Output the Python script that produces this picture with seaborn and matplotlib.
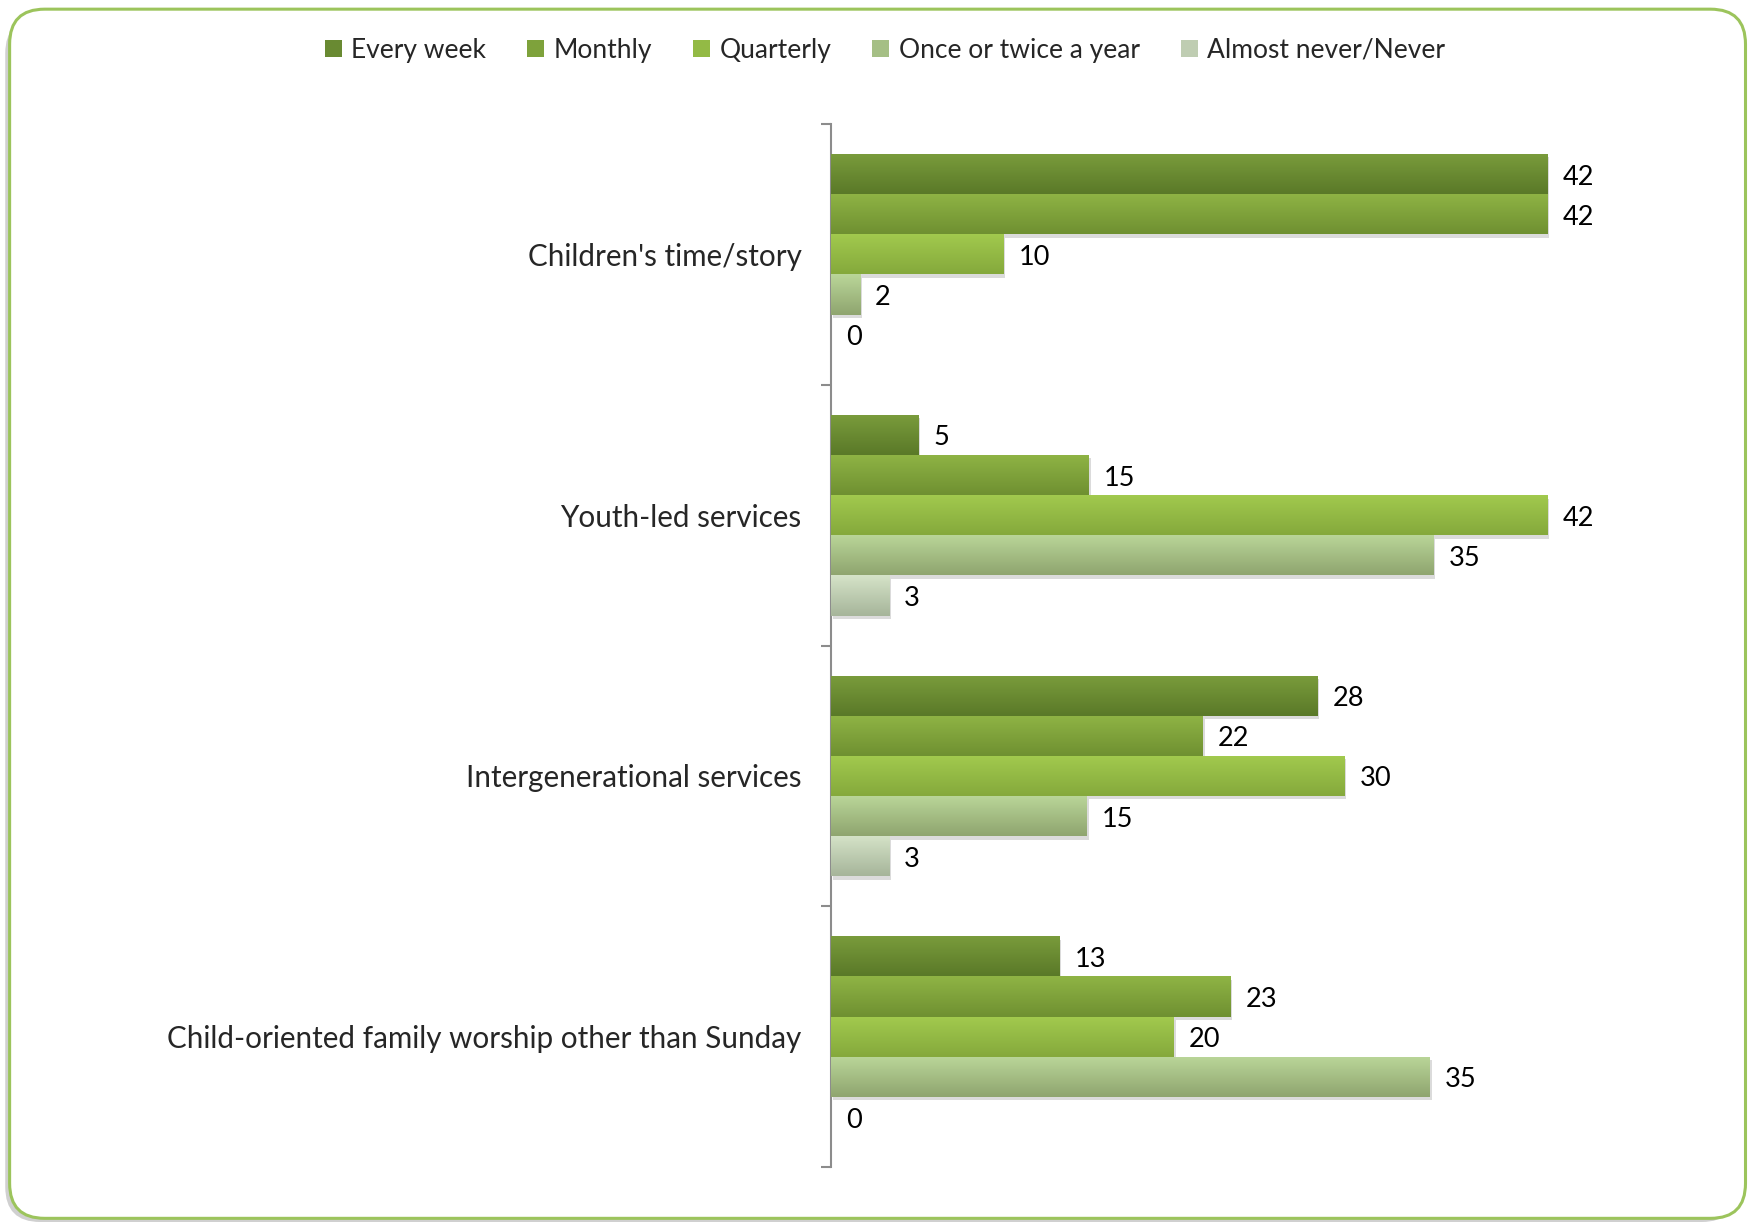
import numpy as np
import pandas as pd
import matplotlib
matplotlib.use("Agg")
import matplotlib.pyplot as plt
import matplotlib.patheffects as pe
from matplotlib.colors import LinearSegmentedColormap
from matplotlib.patches import FancyBboxPatch, Patch
import seaborn as sns

services = ["Children's time/story", "Youth-led services", "Intergenerational services",
            "Child-oriented family worship other than Sunday"]
freqs = ["Every week", "Monthly", "Quarterly", "Once or twice a year", "Almost never/Never"]
every_week = [42.0, 5.1, 28.5, 13.4]
monthly = [42.0, 15.1, 21.8, 23.4]
quarterly = [10.1, 42.0, 30.1, 20.1]
once_twice = [1.7, 35.3, 15.0, 35.1]
almost_never = [0, 3.4, 3.4, 0]

# gradient colours per series, top -> bottom of each bar
grad = {
    "Every week": ("#7a9c3c", "#5a7928"),
    "Monthly": ("#8fb445", "#6f9031"),
    "Quarterly": ("#a2ca4e", "#85a93c"),
    "Once or twice a year": ("#bad699", "#8fa56f"),
    "Almost never/Never": ("#d5e3c8", "#a6b59a"),
}
mid = {"Every week": "#698a32", "Monthly": "#7ea23b", "Quarterly": "#93ba45",
       "Once or twice a year": "#a5bf85", "Almost never/Never": "#bfcdb2"}

rows = []
for f, vals in zip(freqs, [every_week, monthly, quarterly, once_twice, almost_never]):
    for s, v in zip(services, vals):
        rows.append({"service": s, "freq": f, "value": v})
df = pd.DataFrame(rows)

sns.set_style("white")
plt.rcParams['font.family'] = ['Lato', 'DejaVu Sans']

fig = plt.figure(figsize=(17.49, 12.22), dpi=100)

# rounded green frame with a soft shadow (kept behind the axes)
shadow = FancyBboxPatch((0.003, 0.0), 0.99, 0.985, boxstyle="round,pad=0,rounding_size=0.02",
                        transform=fig.transFigure, facecolor="#d0d0d0", edgecolor="none",
                        mutation_aspect=1749 / 1222, zorder=-3)
frame = FancyBboxPatch((0.0055, 0.003), 0.9925, 0.9895, boxstyle="round,pad=0,rounding_size=0.02",
                       transform=fig.transFigure, facecolor="white", edgecolor="#9cc45c",
                       linewidth=2.2, mutation_aspect=1749 / 1222, zorder=-2)
fig.patches.extend([shadow, frame])

ax = fig.add_axes([0.475, 0.045, 0.439, 0.8535])
ax.set_facecolor("none")
sns.barplot(data=df, y="service", x="value", hue="freq", order=services, hue_order=freqs,
            palette=mid, orient="h", width=0.77, ax=ax, legend=False, saturation=1,
            linewidth=0)

# gradient fills clipped to each bar
for cont, f in zip(ax.containers, freqs):
    cmap = LinearSegmentedColormap.from_list(f, [grad[f][0], grad[f][1]])
    for p in cont.patches:
        x0, y0 = p.get_x(), p.get_y()
        w, h = p.get_width(), p.get_height()
        p.set_path_effects([pe.SimplePatchShadow(offset=(1.5, -2.5), shadow_rgbFace="#9a9a9a",
                                                 alpha=0.35), pe.Normal()])
        if w <= 0:
            continue
        im = ax.imshow(np.linspace(0, 1, 64).reshape(-1, 1), cmap=cmap, aspect="auto",
                       extent=(x0, x0 + w, y0 + h, y0), zorder=3, interpolation="bilinear")
        im.set_clip_path(p)
    labels = ax.bar_label(cont, fmt="%.0f", padding=11, fontsize=19.5, color="black")
    for t in labels:
        t.xyann = (t.xyann[0], -2.2)
ax.set_xlim(0, 45)
ax.set_ylim(3.5, -0.5)

sns.despine(ax=ax, left=False, bottom=True, top=True, right=True)
ax.spines["left"].set_color("#8c8c8c")
ax.spines["left"].set_linewidth(1.5)
ax.set_xticks([])
ax.set_yticks(range(len(services)))
ax.set_yticklabels(services, fontsize=21.3)
ax.set_yticks(np.arange(-0.5, 4, 1), minor=True)
ax.tick_params(axis="y", which="major", left=False, length=0, pad=21)
ax.tick_params(axis="y", which="minor", left=True, length=7, width=1.5, color="#8c8c8c",
               direction="out")
ax.set_xlabel("")
ax.set_ylabel("")

handles = [Patch(facecolor=mid[f], edgecolor="none") for f in freqs]
fig.legend(handles, freqs, loc="center", bbox_to_anchor=(0.506, 0.959), ncol=5, frameon=False,
           fontsize=19, handlelength=0.65, handleheight=0.65, handletextpad=0.35,
           columnspacing=1.55)

fig.savefig("out.png", dpi=100)
